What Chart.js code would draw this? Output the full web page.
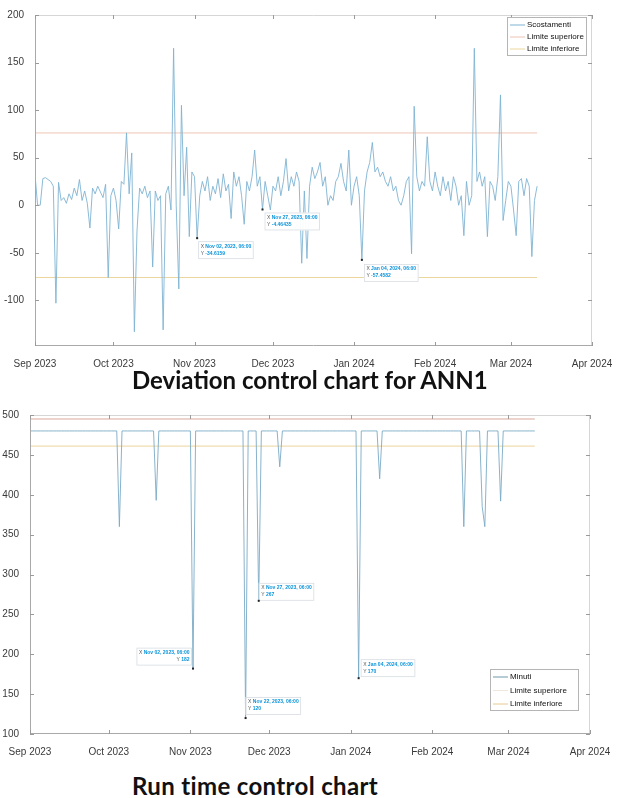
<!DOCTYPE html>
<html>
<head>
<meta charset="utf-8">
<script src="https://cdn.jsdelivr.net/npm/chart.js@4.4.1/dist/chart.umd.min.js"></script>
<style>
body { margin: 0; background: #fff; width: 618px; height: 798px; position: relative; overflow: hidden; }
canvas { position: absolute; left: 0; }
#devChart { top: 0; }
#runChart { top: 400px; }
.caption { position: absolute; font-family: Lato, "Open Sans", sans-serif; font-weight: bold; color: #111; white-space: nowrap; line-height: 1; }
#cap1 { left: 132px; top: 368px; font-size: 24px; }
#cap2 { left: 132px; top: 774px; font-size: 24px; letter-spacing: 0.35px; }
</style>
</head>
<body>
<canvas id="devChart" width="618" height="370"></canvas>
<div class="caption" id="cap1">Deviation control chart for ANN1</div>
<canvas id="runChart" width="618" height="360"></canvas>
<div class="caption" id="cap2">Run time control chart</div>
<script>
// x axis: days counted from Sep 1 2023
var monthTickDays = [0, 30, 61, 91, 122, 153, 182, 213];
var monthTickLabels = ['Sep 2023', 'Oct 2023', 'Nov 2023', 'Dec 2023', 'Jan 2024', 'Feb 2024', 'Mar 2024', 'Apr 2024'];
var limitDays = [0, 192];

// deviation chart (one value per day, Sep 1 2023 .. Mar 11 2024)
var scostamenti = [
    32, 0, 0, 28, 29, 27, 25, 20, -103, 24,
    5, 8, 2, 12, 6, 18, 10, 27, 5, 15,
    2, -24, 18, 12, 20, 14, 8, 22, -76, 10,
    18, 5, -25, 25, 22, 76, 12, 55, -133, -27,
    18, 12, 20, 8, 15, -65, 15, 5, 10, -131,
    12, 20, -5, 165, 0, -88, 105, 10, 61, -33,
    35, 30, -34.6159, 10, 25, 15, 30, 5, 20, 12,
    28, 8, 33, 15, 22, -14, 35, 20, 30, 10,
    -20, 25, 15, 30, 58, 20, 30, -4.46435, 25, 10,
    -5, 20, 15, 30, 10, 25, 49, 15, 30, 20,
    35, 25, -61, 15, -56, 20, 40, 28, 35, 45,
    20, 30, 0, 10, 5, 25, 30, 44, 25, 15,
    58, 0, 20, 30, 10, -57.4582, 15, 35, 45, 66,
    35, 40, 30, 35, 25, 20, 30, 15, 20, 5,
    0, 10, 25, 30, -51, 104, 30, 15, 25, 20,
    72, 25, 15, 35, 20, 10, 30, 15, 25, 5,
    30, 20, 0, 10, -32, 25, 0, 10, 165, 25,
    35, 20, 30, -33, 25, 20, 5, 30, 116, -16,
    5, 25, 20, -5, -32, 25, 28, 10, 28, 20,
    -54, 5, 20
];
var devUpper = 76;
var devLower = -76;
var devYTicks = [-100, -50, 0, 50, 100, 150, 200];

// run time chart (minutes per day)
var minuti = [
    480, 480, 480, 480, 480, 480, 480, 480, 480, 480,
    480, 480, 480, 480, 480, 480, 480, 480, 480, 480,
    480, 480, 480, 480, 480, 480, 480, 480, 480, 480,
    480, 480, 480, 480, 360, 480, 480, 480, 480, 480,
    480, 480, 480, 480, 480, 480, 480, 480, 393, 480,
    480, 480, 480, 480, 480, 480, 480, 480, 480, 480,
    480, 480, 182, 480, 480, 480, 480, 480, 480, 480,
    480, 480, 480, 480, 480, 480, 480, 480, 480, 480,
    480, 480, 120, 480, 480, 480, 480, 267, 480, 480,
    480, 480, 480, 480, 480, 435, 480, 480, 480, 480,
    480, 480, 480, 480, 480, 480, 480, 480, 480, 480,
    480, 480, 480, 480, 480, 480, 480, 480, 480, 480,
    480, 480, 480, 480, 480, 170, 480, 480, 480, 480,
    480, 480, 480, 420, 480, 480, 480, 480, 480, 480,
    480, 480, 480, 480, 480, 480, 480, 480, 480, 480,
    480, 480, 480, 480, 480, 480, 480, 480, 480, 480,
    480, 480, 480, 480, 480, 360, 480, 480, 480, 480,
    480, 480, 385, 360, 480, 480, 480, 480, 480, 392,
    480, 480, 480, 480, 480, 480, 480, 480, 480, 480,
    480, 480, 480
];
var runUpper = 495;
var runLower = 461;
var runYTicks = [100, 150, 200, 250, 300, 350, 400, 450, 500];

// data tips (day index + shown date)
var devTipDays = [62, 87, 125];
var devTipDates = ['Nov 02, 2023, 06:00', 'Nov 27, 2023, 06:00', 'Jan 04, 2024, 06:00'];
var runTipDays = [62, 82, 87, 125];
var runTipDates = ['Nov 02, 2023, 06:00', 'Nov 22, 2023, 06:00', 'Nov 27, 2023, 06:00', 'Jan 04, 2024, 06:00'];

var tickFont = { family: '"Liberation Sans", Arial, sans-serif', size: 10 };
var tipBlue = '#0a93dc';

function toPoints(values) {
    var pts = [];
    for (var i = 0; i < values.length; i++) {
        pts.push({ x: i, y: values[i] });
    }
    return pts;
}

function limitPoints(v) {
    return [{ x: limitDays[0], y: v }, { x: limitDays[1], y: v }];
}

function matlabDecor(cfg) {
    return {
        id: 'matlabDecor',
        afterDatasetsDraw: function(chart) {
            var ctx = chart.ctx;
            var a = chart.chartArea;
            var xs = chart.scales.x;
            var ys = chart.scales.y;
            ctx.save();

            // axes box
            ctx.lineWidth = 1;
            ctx.strokeStyle = '#d6d6d6';
            ctx.beginPath();
            ctx.moveTo(a.left, a.top + 0.5);
            ctx.lineTo(a.right, a.top + 0.5);
            ctx.moveTo(a.right - 0.5, a.top);
            ctx.lineTo(a.right - 0.5, a.bottom);
            ctx.stroke();
            ctx.strokeStyle = '#a9a9a9';
            ctx.beginPath();
            ctx.moveTo(a.left + 0.5, a.top);
            ctx.lineTo(a.left + 0.5, a.bottom);
            ctx.moveTo(a.left, a.bottom - 0.5);
            ctx.lineTo(a.right, a.bottom - 0.5);
            ctx.stroke();

            // inward ticks on all four sides
            ctx.strokeStyle = '#9a9a9a';
            ctx.beginPath();
            xs.ticks.forEach(function(t) {
                var px = Math.round(xs.getPixelForValue(t.value)) + 0.5;
                ctx.moveTo(px, a.bottom);
                ctx.lineTo(px, a.bottom - 4);
                ctx.moveTo(px, a.top);
                ctx.lineTo(px, a.top + 4);
            });
            ys.ticks.forEach(function(t) {
                var py = Math.round(ys.getPixelForValue(t.value)) + 0.5;
                ctx.moveTo(a.left, py);
                ctx.lineTo(a.left + 4, py);
                ctx.moveTo(a.right, py);
                ctx.lineTo(a.right - 4, py);
            });
            ctx.stroke();

            // data tips
            var data = chart.data.datasets[0].data;
            cfg.tipDays.forEach(function(day, i) {
                var p = data[day];
                var px = xs.getPixelForValue(p.x);
                var py = ys.getPixelForValue(p.y);
                var off = cfg.tipOffsets[i];
                var line1 = cfg.tipDates[i];
                var line2 = String(p.y);
                ctx.font = 'bold 5px "Liberation Sans", Arial, sans-serif';
                var w1 = ctx.measureText(line1).width;
                var w2 = ctx.measureText(line2).width;
                ctx.font = '5px "Liberation Sans", Arial, sans-serif';
                var lw = ctx.measureText('X ').width;
                var w = Math.max(w1, w2) + lw + 5;
                var h = 18;
                var bx = off.dx < 0 ? px + off.dx - w : px + off.dx;
                var by = py + off.dy;
                ctx.fillStyle = 'rgba(255,255,255,0.95)';
                ctx.fillRect(bx, by, w, h);
                ctx.strokeStyle = '#d8dde2';
                ctx.lineWidth = 0.8;
                ctx.strokeRect(bx + 0.5, by + 0.5, w - 1, h - 1);
                ctx.fillStyle = '#222';
                ctx.fillRect(px - 1, py - 1, 2, 2);
                ctx.textBaseline = 'middle';
                var rows = [[line1, w1], [line2, w2]];
                rows.forEach(function(r, k) {
                    var ty = by + 5 + k * 7;
                    var tx = bx + 2.5;
                    if (off.align === 'right') {
                        tx = bx + w - 2.5 - lw - r[1];
                    }
                    ctx.font = '5px "Liberation Sans", Arial, sans-serif';
                    ctx.fillStyle = '#555';
                    ctx.fillText(k === 0 ? 'X' : 'Y', tx, ty);
                    ctx.font = 'bold 5px "Liberation Sans", Arial, sans-serif';
                    ctx.fillStyle = tipBlue;
                    ctx.fillText(r[0], tx + lw, ty);
                });
            });

            // legend box
            var L = cfg.legend;
            ctx.fillStyle = '#fff';
            ctx.fillRect(L.x, L.y, L.w, L.h);
            ctx.strokeStyle = '#b5b5b5';
            ctx.lineWidth = 1;
            ctx.strokeRect(L.x + 0.5, L.y + 0.5, L.w - 1, L.h - 1);
            ctx.font = '8px "Liberation Sans", Arial, sans-serif';
            ctx.textBaseline = 'middle';
            chart.data.datasets.forEach(function(ds, i) {
                var ry = L.y + L.first + i * L.gap;
                ctx.strokeStyle = ds.legendColor || ds.borderColor;
                ctx.lineWidth = 1;
                ctx.beginPath();
                ctx.moveTo(L.x + 3, ry);
                ctx.lineTo(L.x + 3 + L.line, ry);
                ctx.stroke();
                ctx.fillStyle = '#111';
                ctx.fillText(ds.label, L.x + 5 + L.line, ry);
            });
            ctx.restore();
        }
    };
}

function makeChart(id, cfg) {
    return new Chart(document.getElementById(id), {
        type: 'line',
        data: { datasets: cfg.datasets },
        options: {
            responsive: false,
            animation: false,
            events: [],
            layout: { padding: cfg.padding },
            plugins: { legend: { display: false }, tooltip: { enabled: false } },
            scales: {
                x: {
                    type: 'linear',
                    min: 0,
                    max: 213,
                    grid: { display: false },
                    border: { display: false },
                    afterBuildTicks: function(s) {
                        s.ticks = monthTickDays.map(function(v) { return { value: v }; });
                    },
                    afterFit: function(s) { s.height = cfg.xHeight; },
                    ticks: {
                        autoSkip: false,
                        maxRotation: 0,
                        padding: cfg.xPad,
                        color: '#3a3a3a',
                        font: tickFont,
                        callback: function(v, i) { return monthTickLabels[i]; }
                    }
                },
                y: {
                    type: 'linear',
                    min: cfg.yMin,
                    max: cfg.yMax,
                    grid: { display: false },
                    border: { display: false },
                    afterBuildTicks: function(s) {
                        s.ticks = cfg.yTicks.map(function(v) { return { value: v }; });
                    },
                    afterFit: function(s) { s.width = cfg.yWidth; },
                    ticks: {
                        padding: 3,
                        color: '#3a3a3a',
                        font: tickFont,
                        callback: function(v) { return String(v); }
                    }
                }
            }
        },
        plugins: [matlabDecor(cfg)]
    });
}

makeChart('devChart', {
    datasets: [
        { label: 'Scostamenti', data: toPoints(scostamenti), borderColor: '#7fb3d2', borderWidth: 0.9, pointRadius: 0, tension: 0 },
        { label: 'Limite superiore', data: limitPoints(devUpper), borderColor: '#eec4b2', borderWidth: 1, pointRadius: 0 },
        { label: 'Limite inferiore', data: limitPoints(devLower), borderColor: '#ecd59e', borderWidth: 1, pointRadius: 0 }
    ],
    padding: { top: 15, right: 26, left: 0, bottom: 0 },
    xHeight: 24, xPad: 4, yWidth: 35,
    yMin: -148, yMax: 200, yTicks: devYTicks,
    tipDays: devTipDays, tipDates: devTipDates,
    tipOffsets: [{ dx: 1, dy: 3 }, { dx: 2, dy: 3 }, { dx: 2, dy: 4 }],
    legend: { x: 507, y: 17, w: 80, h: 39, first: 8, gap: 12, line: 15 }
});

makeChart('runChart', {
    datasets: [
        { label: 'Minuti', data: toPoints(minuti), borderColor: '#7aaac6', legendColor: '#6f98aa', borderWidth: 0.9, pointRadius: 0, tension: 0 },
        { label: 'Limite superiore', data: limitPoints(runUpper), borderColor: '#d9a99a', legendColor: '#f1e6dc', borderWidth: 1, pointRadius: 0 },
        { label: 'Limite inferiore', data: limitPoints(runLower), borderColor: '#ecd59e', legendColor: '#e8c990', borderWidth: 1, pointRadius: 0 }
    ],
    padding: { top: 15, right: 28, left: 0, bottom: 0 },
    xHeight: 26, xPad: 4, yWidth: 30,
    yMin: 100, yMax: 500, yTicks: runYTicks,
    tipDays: runTipDays, tipDates: runTipDates,
    tipOffsets: [{ dx: -1, dy: -21, align: 'right' }, { dx: 0, dy: -21 }, { dx: 0, dy: -18 }, { dx: 2, dy: -19 }],
    legend: { x: 490, y: 269, w: 89, h: 42, first: 8, gap: 13.5, line: 15 }
});
</script>
</body>
</html>
